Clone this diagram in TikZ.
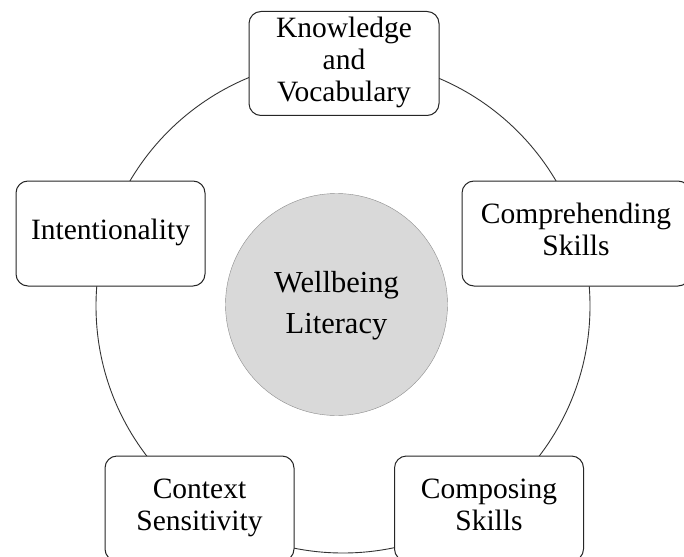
\documentclass[tikz,border=0pt]{standalone}
\usepackage{fontspec}
\setmainfont{Liberation Serif}
\usepackage{tikz}

\begin{document}
\begin{tikzpicture}[x=1pt,y=-1pt,
    every node/.style={text=black},
    part/.style={draw=black!85,fill=white,rounded corners=12pt,line width=1pt,
        minimum width=190pt,minimum height=104pt,inner sep=0pt,align=center,
        font=\fontsize{29.5}{32}\selectfont}]
    \path[use as bounding box,clip] (0,0) rectangle (684,556);
    \draw[black!80,line width=0.9pt] (343,306) circle (247pt);
    \node[circle,draw=black!45,fill=black!15,minimum size=222pt,align=center,
        font=\fontsize{30.5}{41}\selectfont] (core) at (336.5,304.5) {Wellbeing\strut\\Literacy\strut};
    \node[part] (know) at (344,63.5) {Knowledge\strut\\and\strut\\Vocabulary\strut};
    \node[part,minimum width=189pt,minimum height=105pt] (intent) at (110.5,233.5) {Intentionality\strut};
    \node[part,minimum width=228pt,minimum height=105pt] (compr) at (576,233.5) {Comprehending\strut\\Skills\strut};
    \node[part,minimum width=189pt,minimum height=105pt] (context) at (199.5,508.5) {Context\strut\\Sensitivity\strut};
    \node[part,minimum width=189pt,minimum height=105pt] (compos) at (489,508.5) {Composing\strut\\Skills\strut};
\end{tikzpicture}
\end{document}
